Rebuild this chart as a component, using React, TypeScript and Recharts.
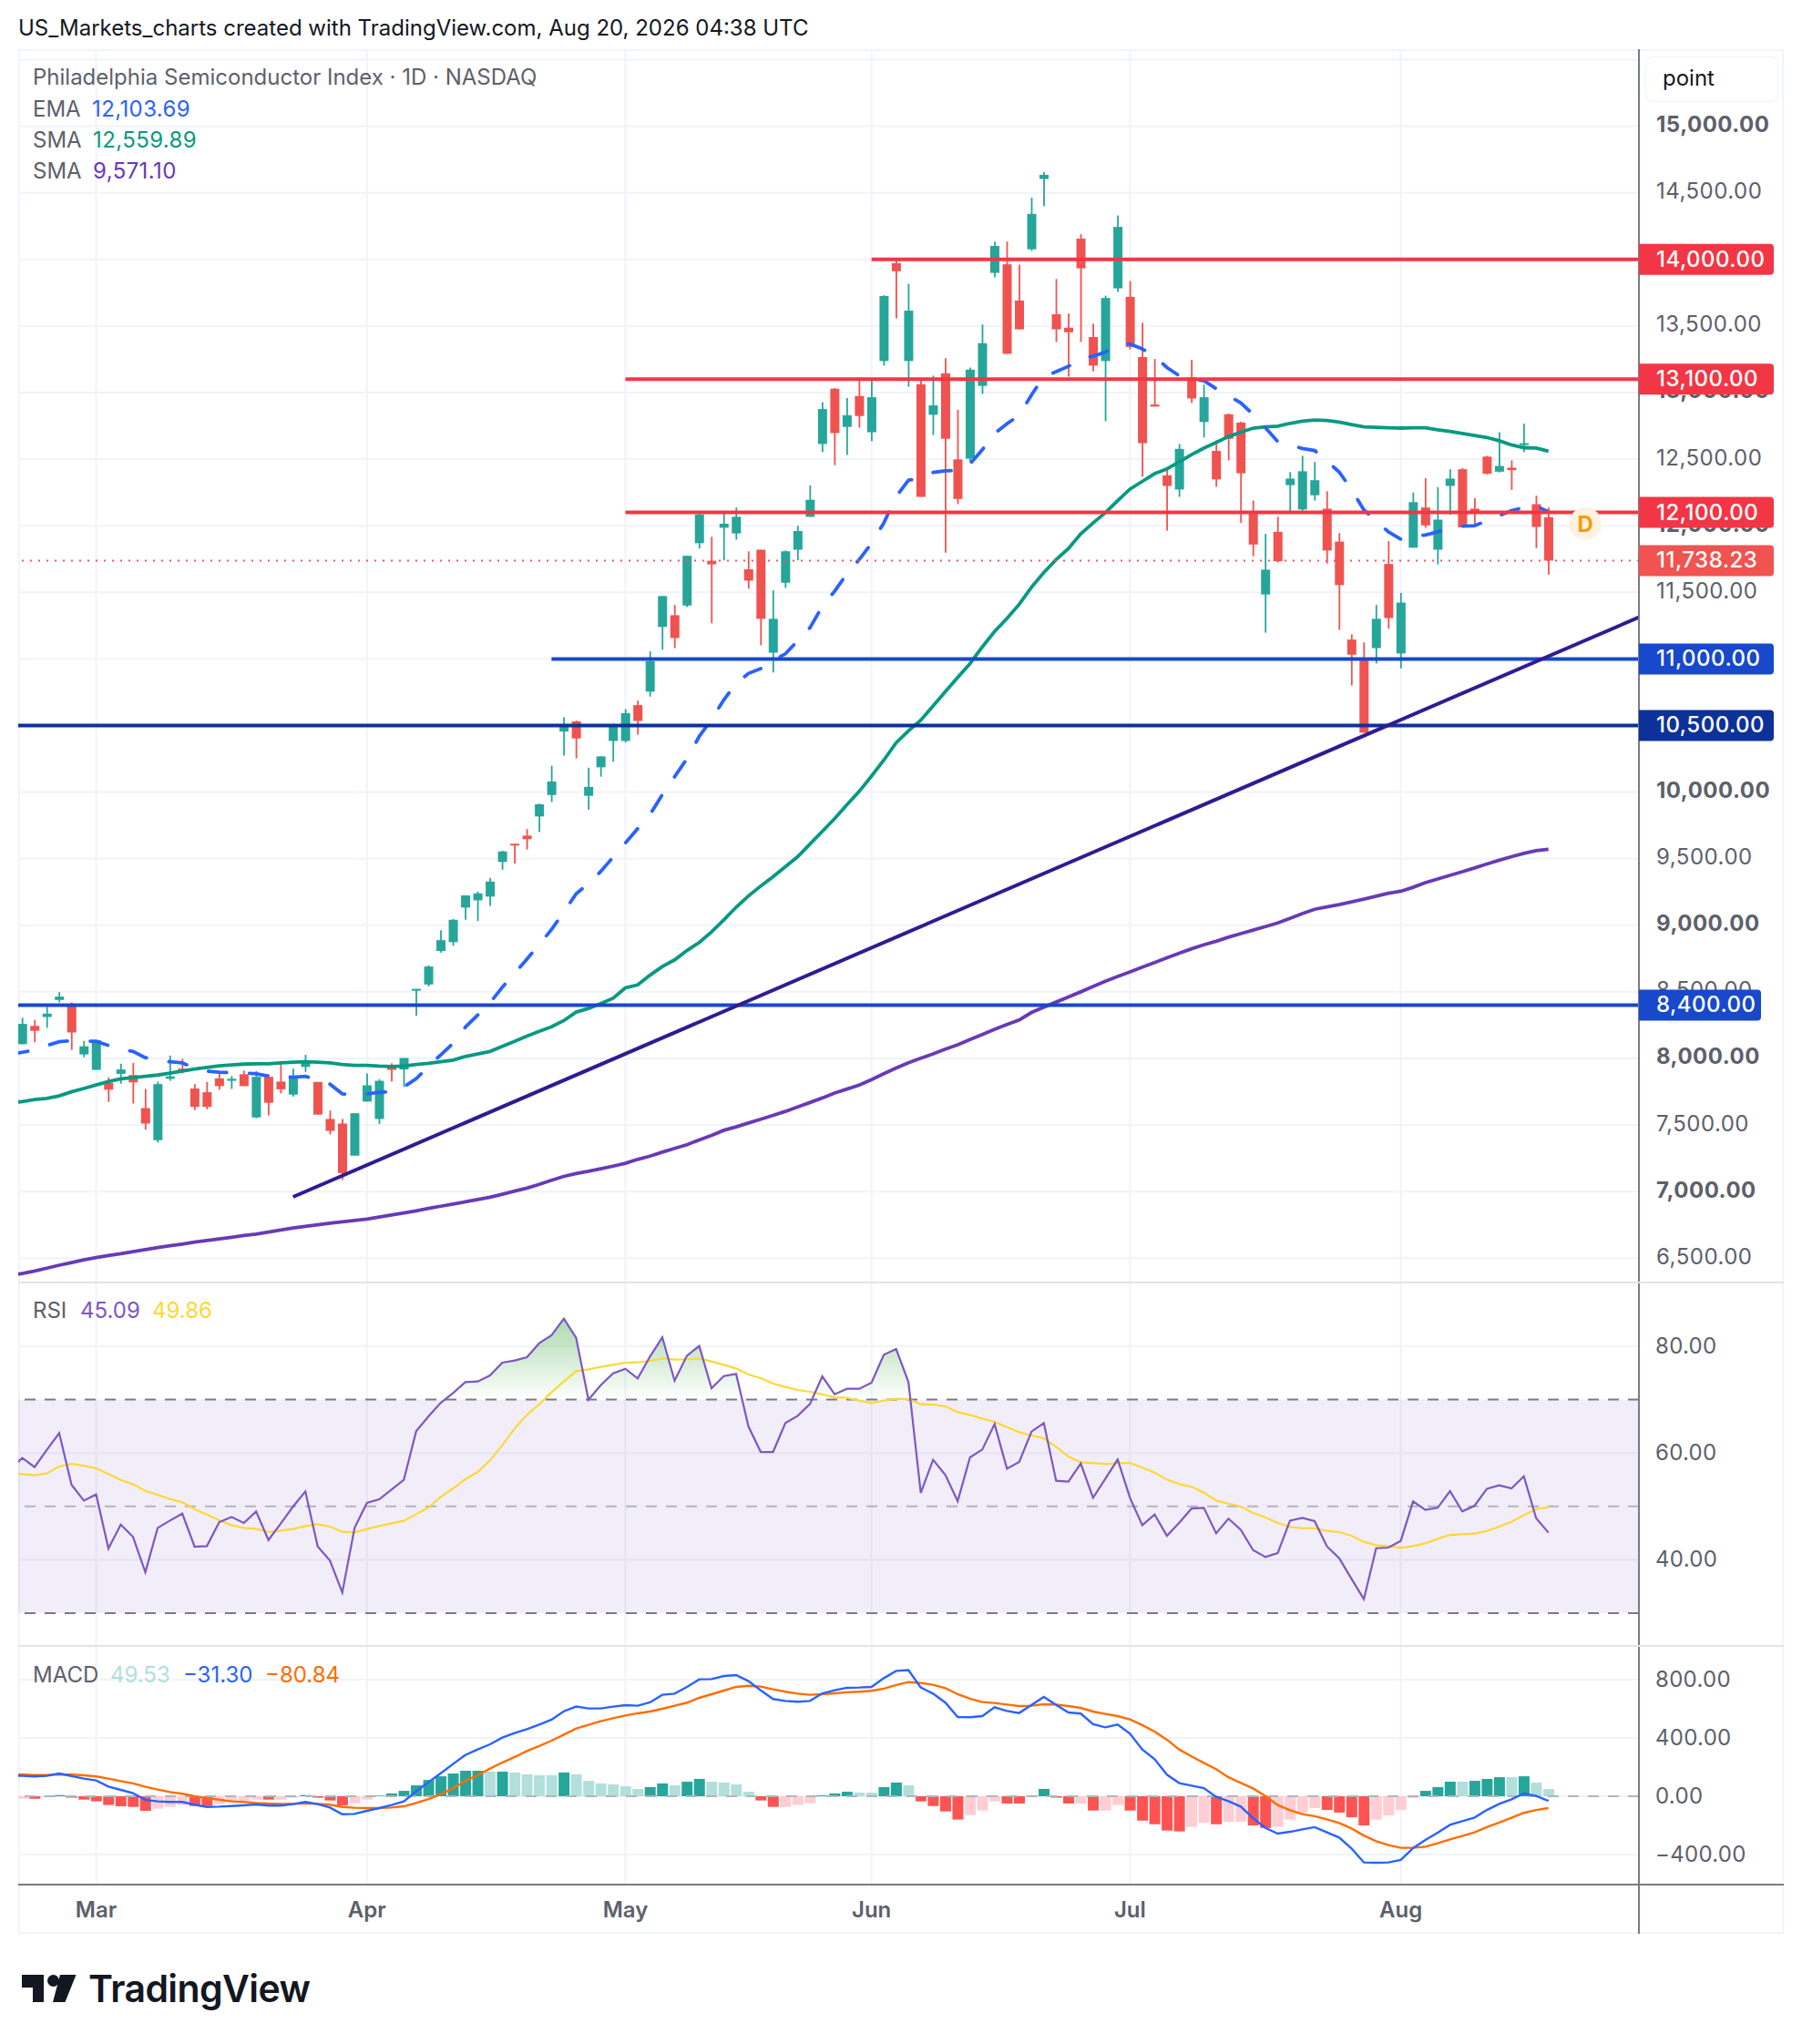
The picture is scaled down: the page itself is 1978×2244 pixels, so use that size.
import { ComposedChart, Bar, Line, Area, Cell, XAxis, YAxis, CartesianGrid, ReferenceLine, ReferenceArea, ReferenceDot } from "recharts";

const FONT = "Inter, 'Noto Sans', sans-serif";
const GREY = "#5D606B";
const GRID = "#F0F3FA";
const AXIS = "#787B86";

const monthTicks = [6, 28, 49, 69, 90, 112];
const monthLabels = ["Mar", "Apr", "May", "Jun", "Jul", "Aug"];

const opens = [8107,8244,8311,8439,8403,8030,7914,7816,7884,7875,7627,7386,7847,7923,7774,7746,7850,7832,7881,7557,7862,7826,7728,7936,7823,7545,7511,7270,7676,7545,7939,7917,8510,8555,8806,8873,9133,9187,9215,9475,9612,9673,9817,9978,10455,10531,9972,10186,10384,10384,10653,10754,11240,11328,11401,11869,11737,11985,11942,11673,11820,11047,11572,11820,12067,12614,13029,12742,12974,12702,13237,13972,13237,13062,12833,13145,12498,12504,13050,13899,13963,13691,14076,14604,13588,13487,14156,13417,13237,13783,13719,13267,12910,12379,12272,13114,12779,12562,12837,12775,12098,11484,11954,12305,12122,12229,12128,11881,11145,11008,11081,11713,11041,11835,12137,11820,12299,12424,12128,12519,12406,12436,12607,12162,12064];
const highs = [8305,8290,8387,8497,8421,8131,8137,7856,7960,7966,7771,7826,8021,7997,7807,7823,7899,7868,7908,7905,7881,7960,7923,8027,7823,7609,7545,7588,7887,7844,7963,8003,8522,8699,8962,9047,9224,9252,9355,9560,9612,9722,9914,10198,10562,10537,10183,10268,10513,10623,10687,11056,11472,11405,11774,12107,11917,12098,12137,11808,11820,11514,11814,12000,12302,12928,13035,12959,13114,13090,13731,13997,13817,13105,13127,13258,12870,13188,13511,14134,14134,13960,14464,14656,13853,13594,14189,13517,13728,14330,13838,13524,13252,12418,12614,13246,13059,12641,12843,12782,12189,11939,12067,12403,12525,12479,12259,11945,11185,11124,11405,11884,11496,12250,12357,12290,12424,12433,12208,12525,12702,12491,12766,12226,12137];
const lows = [8107,8122,8229,8421,8064,8009,7914,7673,7810,7661,7465,7368,7832,7887,7612,7618,7765,7771,7792,7551,7572,7737,7713,7899,7578,7429,7087,7270,7676,7508,7826,7786,8320,8540,8794,8846,9041,9032,9145,9417,9462,9569,9700,9926,10274,10253,9868,10116,10229,10372,10430,10717,11069,11081,11389,11829,11267,11740,11896,11527,11102,10898,11533,11740,12067,12553,12455,12531,12736,12635,13203,13557,13044,12217,12681,11798,12162,12479,12989,13866,13291,13475,14064,14400,13380,13120,13380,13160,12785,13756,13325,12369,12895,11963,12217,12922,12662,12293,12491,12021,11771,11197,11725,12088,12113,12189,11716,11218,10800,10446,10965,11227,10928,11835,11985,11710,12082,11988,12006,12385,12400,12269,12553,11832,11633];
const closes = [8259,8207,8336,8464,8195,8091,8137,7765,7917,7820,7511,7807,7865,7905,7636,7636,7792,7847,7792,7862,7667,7768,7868,7978,7578,7456,7139,7588,7798,7832,7914,8003,8522,8690,8888,9041,9224,9239,9328,9554,9603,9646,9908,10079,10507,10403,10039,10268,10507,10592,10534,10983,11472,11157,11774,12085,11710,12015,12067,11588,11301,11301,11808,11960,12195,12876,12696,12830,12824,12965,13725,13911,13615,12217,12904,12653,12201,13172,13371,14101,13291,13475,14342,14635,13475,13453,13933,13203,13710,14244,13343,12620,12895,12299,12577,12956,12965,12348,12653,12394,11859,11670,11734,12354,12409,12342,11814,11554,11032,10446,11301,11307,11423,12177,12003,12046,12354,11988,12098,12391,12449,12418,12620,11991,11738.23];

const ema = [8046,8064,8097,8125,8134,8131,8128,8097,8070,8052,8006,7984,7975,7966,7929,7905,7896,7893,7890,7884,7868,7862,7859,7865,7838,7807,7734,7725,7734,7746,7749,7786,7847,7939,8027,8113,8235,8326,8418,8534,8638,8745,8855,8968,9099,9236,9313,9404,9511,9618,9725,9830,9980,10115,10250,10418,10546,10693,10815,10891,10928,10989,11038,11136,11234,11395,11508,11640,11746,11868,12021,12220,12342,12357,12400,12412,12418,12464,12571,12693,12766,12830,12983,13120,13157,13197,13258,13273,13304,13365,13365,13328,13273,13188,13127,13099,13090,13029,12977,12922,12837,12736,12632,12607,12580,12565,12485,12403,12272,12119,12037,11954,11899,11924,11930,11954,11985,11997,12000,12037,12076,12113,12137,12149,12104];
const sma50 = [7676,7691,7700,7719,7749,7774,7801,7826,7847,7856,7865,7875,7890,7905,7920,7932,7944,7951,7957,7960,7960,7966,7972,7975,7972,7966,7954,7948,7948,7942,7939,7942,7954,7963,7975,7987,8015,8033,8052,8091,8128,8168,8204,8238,8284,8348,8375,8412,8452,8530,8552,8625,8690,8740,8810,8870,8950,9040,9135,9220,9295,9365,9440,9515,9610,9705,9800,9905,10005,10120,10240,10370,10460,10540,10647,10754,10861,10965,11090,11206,11304,11410,11539,11649,11746,11829,11939,12021,12098,12189,12275,12333,12391,12427,12479,12534,12583,12626,12669,12702,12733,12742,12748,12769,12785,12794,12791,12779,12760,12742,12739,12736,12733,12736,12736,12720,12708,12693,12678,12663,12638,12607,12586,12583,12560];
const sma200 = [6385,6403,6425,6447,6467,6487,6504,6519,6533,6549,6565,6580,6594,6606,6620,6632,6645,6657,6670,6681,6696,6712,6726,6738,6751,6763,6773,6783,6794,6808,6824,6839,6855,6873,6890,6907,6923,6941,6958,6980,7004,7026,7054,7085,7114,7135,7152,7172,7191,7212,7242,7266,7296,7324,7352,7388,7422,7460,7486,7515,7543,7572,7602,7636,7669,7703,7740,7770,7800,7841,7885,7928,7968,8001,8034,8070,8102,8141,8180,8218,8255,8288,8345,8385,8423,8462,8500,8540,8580,8615,8650,8685,8720,8755,8790,8823,8853,8880,8910,8937,8963,8990,9017,9052,9088,9120,9138,9155,9176,9196,9218,9240,9255,9285,9320,9347,9375,9402,9430,9460,9488,9515,9540,9560,9571];

const rsi = [59.07,57.36,60.6,63.73,54.06,51.1,52.24,42.1,46.6,44.28,37.68,45.98,47.35,48.66,42.46,42.57,47.06,48.03,46.89,49.06,43.7,46.8,49.97,52.81,42.5,39.84,33.87,45.98,50.65,51.33,53.15,54.97,64.07,66.86,69.42,71.24,73.29,73.4,74.54,76.93,77.33,77.95,80.57,82.05,85.18,81.59,69.99,72.72,74.94,75.79,73.97,78.07,81.7,73.57,78.24,80.06,72.15,74.43,74.82,64.98,60.2,60.2,65.61,66.97,69.19,74.37,71.01,72.04,72.04,73.17,78.41,79.49,73.29,52.53,58.73,55.88,50.99,59.18,60.66,65.44,57.07,58.33,64.02,65.61,54.8,54.63,58.04,51.61,55.2,58.78,51.61,46.5,48.49,44.5,46.95,49.6,49.74,44.96,47.7,45.64,41.83,40.52,41.26,47.35,47.86,47.23,42.51,40.3,36.43,32.62,42.17,42.29,43.54,50.93,49.34,49.74,52.87,49.06,50.14,53.32,53.95,53.38,55.65,47.8,45.09];
const rsiMa = [56.05,55.82,56.22,57.47,57.99,57.64,57.13,56.05,54.97,54.17,52.92,52.18,51.39,50.76,49.51,48.49,47.41,46.5,45.98,45.81,45.19,45.47,45.76,46.33,46.67,46.21,45.24,45.13,45.76,46.33,46.84,47.29,48.54,49.79,51.79,53.38,55.09,56.45,58.61,61.46,64.58,67.14,69.13,71.41,73.4,75.33,75.67,76.13,76.53,76.93,76.98,77.27,77.72,77.5,77.55,77.72,77.16,76.53,75.85,74.71,74.03,73,72.38,71.81,71.47,71.01,70.44,70.33,69.82,69.36,69.82,70.16,70.1,69.13,69.08,68.74,67.66,67.14,66.46,65.84,64.87,63.9,63.28,62.76,61.17,59.35,58.27,58.15,57.93,58.1,58.15,57.25,56.34,55.03,54.17,53.66,52.58,51.1,50.53,49.97,48.77,47.97,46.89,46.15,45.92,45.92,45.41,45.19,44.5,43.37,42.74,42.57,42.23,42.57,43.08,43.93,44.67,44.79,44.9,45.41,46.21,47.12,48.37,49.51,49.86];

const macd = [140,136,140,156,138,121,109,67,44,21,-25,-35,-39,-39,-58,-73,-71,-67,-62,-56,-64,-64,-54,-39,-54,-77,-123,-121,-100,-81,-60,-35,33,96,158,221,283,321,356,402,433,460,492,525,583,615,602,602,615,625,621,644,696,704,750,802,804,825,831,790,727,667,654,648,654,706,727,744,746,750,810,860,865,746,704,642,544,542,550,610,585,571,627,681,627,575,567,494,473,492,429,321,254,148,90,73,56,-4,-33,-71,-150,-217,-256,-244,-227,-212,-248,-283,-358,-454,-456,-454,-437,-356,-300,-250,-196,-171,-146,-94,-52,-21,19,2,-31.3];
const signal = [148,146,146,150,148,144,136,121,104,88,65,46,29,17,0,-12,-23,-35,-39,-46,-50,-52,-52,-48,-52,-58,-73,-79,-81,-81,-77,-69,-46,-19,13,54,106,144,190,231,269,310,344,381,423,465,490,515,535,554,569,581,600,621,642,675,700,725,750,758,752,733,717,704,696,700,706,713,717,723,738,763,783,777,765,742,700,669,646,640,629,619,621,631,629,619,606,581,565,550,527,488,444,388,321,273,229,186,130,92,54,2,-60,-96,-123,-137,-158,-183,-221,-269,-308,-335,-354,-354,-346,-323,-296,-273,-248,-212,-181,-148,-114,-94,-80.84];
const hist = [-17,-17,-8,8,-10,-23,-35,-60,-69,-73,-100,-85,-73,-60,-67,-67,-54,-40,-31,-23,-23,-23,-10,8,-10,-29,-62,-48,-23,4,19,37,75,112,137,156,175,175,169,169,163,150,144,144,163,150,106,88,81,69,50,63,88,75,100,119,100,94,81,31,-29,-73,-73,-60,-48,6,19,31,25,25,63,94,75,-35,-67,-104,-160,-129,-98,-35,-50,-50,6,50,-10,-50,-50,-98,-98,-60,-98,-167,-192,-235,-241,-210,-181,-192,-175,-175,-200,-218,-210,-160,-112,-81,-94,-112,-144,-200,-160,-131,-94,-12,37,63,100,100,106,119,131,131,137,94,49.53];
// 1 = saturated bar, 0 = pale bar
const histStrong = [0,1,0,1,1,1,1,1,1,1,1,0,0,0,1,1,0,0,0,0,1,0,0,1,1,1,1,0,0,1,1,1,1,1,1,1,1,1,0,1,0,0,0,0,1,0,0,0,0,0,0,1,1,0,1,1,0,0,0,0,1,1,0,0,0,1,1,1,0,0,1,1,0,1,1,1,1,0,0,0,1,1,1,1,1,1,0,1,0,0,1,1,1,1,1,0,0,1,0,0,1,1,0,0,0,0,1,1,1,1,0,0,0,0,1,1,1,0,1,1,1,0,1,0,0];

// one session before the first visible candle, so the lines reach the left edge
const leadPrices = { i: -1, ema: 8030, sma50: 7668, sma200: 6372 };
const leadRsi = { i: -1, rsi: 57, ma: 56.2 };
const leadMacd = { i: -1, macd: 141, signal: 149 };

const candles = [leadPrices, ...opens.map((o, i) => ({ i, o, c: closes[i], range: [lows[i], highs[i]], ema: ema[i], sma50: sma50[i], sma200: sma200[i] }))];
const rsiRows = [leadRsi, ...rsi.map((v, i) => ({ i, rsi: v, ma: rsiMa[i] }))];
const macdRows = [leadMacd, ...macd.map((v, i) => ({ i, macd: v, signal: signal[i], hist: hist[i], strong: histStrong[i] }))];

const priceTicks = [15000, 14500, 13500, 13000, 12500, 12000, 11500, 10000, 9500, 9000, 8500, 8000, 7500, 7000, 6500];
const priceGrid = [15500, 15000, 14500, 14000, 13500, 13000, 12500, 12000, 11500, 11000, 10500, 10000, 9500, 9000, 8500, 8000, 7500, 7000, 6500];
const boldTicks = [15000, 13000, 12000, 10000, 9000, 8000, 7000];
const tagValues = [14000, 13100, 12100, 11000, 10500, 8400, 11738.23];
const tagColors = ["#F23645", "#F23645", "#F23645", "#1848CC", "#0C3299", "#1848CC", "#F05350"];

const X_RIGHT = 131.35;
const X_DOMAIN = [-0.33, X_RIGHT];
const fmt = (v: number) => (v < 0 ? "\u2212" : "") + Math.abs(v).toLocaleString("en-US", { minimumFractionDigits: 2, maximumFractionDigits: 2 });

function Candle(props: any) {
  const { x, y, width, height, payload } = props;
  if (!payload.range) return null;
  const [low, high] = payload.range;
  const k = height / (high - low);
  const up = payload.c >= payload.o;
  const color = up ? "#26A69A" : "#EF5350";
  const top = y + (high - Math.max(payload.o, payload.c)) * k;
  const bottom = y + (high - Math.min(payload.o, payload.c)) * k;
  return (
    <g>
      <rect x={x + width / 2 - 0.9} y={y} width={1.8} height={height} fill={color} />
      <rect x={x} y={top} width={width} height={Math.max(bottom - top, 2)} fill={color} />
    </g>
  );
}

function PriceTick(props: any) {
  const { x, y, payload } = props;
  const v = payload.value;
  const tag = tagValues.indexOf(v);
  if (tag >= 0) {
    const w = v < 10000 ? 134 : 148;
    const left = x - 19;
    return (
      <g>
        <path d={`M${left} ${y - 17}h${w - 4}q4 0 4 4v26q0 4 -4 4h${4 - w}z`} fill={tagColors[tag]} />
        <text x={x} y={y + 8} fontSize={24} fontWeight={500} letterSpacing={0.5} fill="#fff" fontFamily={FONT}>{fmt(v)}</text>
      </g>
    );
  }
  return (
    <text x={x} y={y + 6.5} fontSize={24} fontWeight={boldTicks.includes(v) ? 700 : 400} letterSpacing={0.5} fill={GREY} fontFamily={FONT}>{fmt(v)}</text>
  );
}

function PlainTick(props: any) {
  const { x, y, payload } = props;
  return <text x={x} y={y + 8} fontSize={24} letterSpacing={0.3} fill={GREY} fontFamily={FONT}>{fmt(payload.value)}</text>;
}

function MonthTick(props: any) {
  const { x, y, payload } = props;
  return <text x={x} y={y} textAnchor="middle" fontSize={24} fontWeight={600} fill={GREY} fontFamily={FONT}>{monthLabels[monthTicks.indexOf(payload.value)]}</text>;
}

const abs = (left: number, top: number, extra: object = {}) => ({ position: "absolute" as const, left, top, whiteSpace: "nowrap" as const, fontFamily: FONT, fontSize: 24, lineHeight: "30px", color: GREY, ...extra });

export default function App() {
  return (
    <div style={{ position: "absolute", left: 0, top: 0, width: 1978, height: 2244, background: "#fff", overflow: "hidden" }}>
      <div style={abs(20, 16, { color: "#131722" })}>US_Markets_charts created with TradingView.com, Aug 20, 2026 04:38 UTC</div>
      <div style={{ position: "absolute", left: 20, top: 54, width: 1938, height: 2069, border: `2px solid ${GRID}`, boxSizing: "border-box" }} />

      <div style={{ position: "absolute", left: 20, top: 54 }}>
        <ComposedChart width={1938} height={1353} data={candles} margin={{ top: 0, right: 0, bottom: 0, left: 0 }}>
          <CartesianGrid stroke={GRID} strokeWidth={2} horizontalValues={priceGrid} />
          <XAxis type="number" dataKey="i" domain={X_DOMAIN} allowDataOverflow ticks={monthTicks} hide />
          <YAxis orientation="right" width={159} domain={[6324, 15578.6]} allowDataOverflow interval={0} ticks={[...priceTicks, ...tagValues]} tick={PriceTick} tickLine={false} tickSize={0} tickMargin={19} axisLine={{ stroke: AXIS, strokeWidth: 2 }} />
          <Line dataKey="sma200" stroke="#673AB7" strokeWidth={3.8} dot={false} isAnimationActive={false} />
          <Line dataKey="sma50" stroke="#089981" strokeWidth={3.8} dot={false} isAnimationActive={false} />
          <Line dataKey="ema" stroke="#2962FF" strokeWidth={3.8} strokeDasharray="20 25" strokeLinecap="round" dot={false} isAnimationActive={false} />
          <Bar dataKey="range" barSize={10} shape={Candle} isAnimationActive={false} />
          <ReferenceLine y={11738.23} stroke="#F7525F" strokeWidth={2} strokeDasharray="2 7" />
          <ReferenceLine segment={[{ x: 69, y: 14000 }, { x: X_RIGHT, y: 14000 }]} stroke="#F23645" strokeWidth={4} />
          <ReferenceLine segment={[{ x: 49, y: 13100 }, { x: X_RIGHT, y: 13100 }]} stroke="#F23645" strokeWidth={4} />
          <ReferenceLine segment={[{ x: 49, y: 12100 }, { x: X_RIGHT, y: 12100 }]} stroke="#F23645" strokeWidth={4} />
          <ReferenceLine segment={[{ x: 43, y: 11000 }, { x: X_RIGHT, y: 11000 }]} stroke="#1848CC" strokeWidth={4} />
          <ReferenceLine y={10500} stroke="#0C3299" strokeWidth={4} />
          <ReferenceLine y={8400} stroke="#1848CC" strokeWidth={4} />
          <ReferenceLine segment={[{ x: 22, y: 6960 }, { x: X_RIGHT, y: 11313 }]} stroke="#311B92" strokeWidth={4} />
          <ReferenceDot x={127} y={12015} r={18} fill="#FFF3E0" stroke="none" label={{ value: "D", fill: "#FF9800", fontSize: 24, fontWeight: 700, fontFamily: FONT }} />
        </ComposedChart>
      </div>

      <div style={{ position: "absolute", left: 20, top: 1407 }}>
        <ComposedChart width={1938} height={400} data={rsiRows} margin={{ top: 0, right: 0, bottom: 0, left: 0 }}>
          <defs>
            <linearGradient id="rsiFill" gradientUnits="userSpaceOnUse" x1="0" y1="50" x2="0" y2="130">
              <stop offset="0%" stopColor="#4CAF50" stopOpacity={0.42} />
              <stop offset="100%" stopColor="#4CAF50" stopOpacity={0} />
            </linearGradient>
          </defs>
          <CartesianGrid stroke={GRID} strokeWidth={2} horizontalValues={[80, 60, 40]} />
          <XAxis type="number" dataKey="i" domain={X_DOMAIN} allowDataOverflow ticks={monthTicks} hide />
          <YAxis orientation="right" width={159} domain={[23.86, 92.12]} allowDataOverflow interval={0} ticks={[80, 60, 40]} tick={PlainTick} tickLine={false} tickSize={0} tickMargin={18} axisLine={{ stroke: AXIS, strokeWidth: 2 }} />
          <ReferenceArea y1={30} y2={70} fill="#7E57C2" fillOpacity={0.1} stroke="none" />
          <ReferenceLine y={70} stroke={AXIS} strokeWidth={2} strokeDasharray="12 10" />
          <ReferenceLine y={50} stroke="#B2B5BE" strokeWidth={2} strokeDasharray="12 10" />
          <ReferenceLine y={30} stroke={AXIS} strokeWidth={2} strokeDasharray="12 10" />
          <Area dataKey="rsi" baseValue={70} stroke="none" fill="url(#rsiFill)" fillOpacity={1} dot={false} activeDot={false} isAnimationActive={false} />
          <Line dataKey="ma" stroke="#FDD835" strokeWidth={2.2} dot={false} isAnimationActive={false} />
          <Line dataKey="rsi" stroke="#7E57C2" strokeWidth={2.2} dot={false} isAnimationActive={false} />
        </ComposedChart>
      </div>

      <div style={{ position: "absolute", left: 20, top: 1807 }}>
        <ComposedChart width={1938} height={316} data={macdRows} margin={{ top: 0, right: 0, bottom: 0, left: 0 }}>
          <CartesianGrid stroke={GRID} strokeWidth={2} horizontalValues={[800, 400, 0, -400]} />
          <XAxis type="number" dataKey="i" domain={X_DOMAIN} allowDataOverflow ticks={monthTicks} height={54} tick={MonthTick} tickLine={false} tickSize={0} tickMargin={36} interval={0} axisLine={{ stroke: AXIS, strokeWidth: 2 }} />
          <YAxis orientation="right" width={159} domain={[-606, 1031]} allowDataOverflow interval={0} ticks={[800, 400, 0, -400]} tick={PlainTick} tickLine={false} tickSize={0} tickMargin={18} axisLine={{ stroke: AXIS, strokeWidth: 2 }} />
          <ReferenceLine y={0} stroke="#B2B5BE" strokeWidth={2} strokeDasharray="12 10" />
          <Bar dataKey="hist" barSize={12} isAnimationActive={false}>
            {macdRows.map((r: any) => (
              <Cell key={r.i} fill={r.hist >= 0 ? (r.strong ? "#26A69A" : "#B2DFDB") : r.strong ? "#FF5252" : "#FFCDD2"} />
            ))}
          </Bar>
          <Line dataKey="signal" stroke="#FF6D00" strokeWidth={2.4} dot={false} isAnimationActive={false} />
          <Line dataKey="macd" stroke="#2962FF" strokeWidth={2.4} dot={false} isAnimationActive={false} />
        </ComposedChart>
      </div>

      <div style={{ position: "absolute", left: 20, top: 1407, width: 1938, height: 2, background: "#E0E3EB" }} />
      <div style={{ position: "absolute", left: 20, top: 1806, width: 1938, height: 2, background: "#E0E3EB" }} />
      <div style={{ position: "absolute", left: 20, top: 2068, width: 1938, height: 2, background: AXIS }} />
      <div style={{ position: "absolute", left: 1798, top: 2068, width: 2, height: 55, background: AXIS }} />

      <div style={abs(36, 70)}>Philadelphia Semiconductor Index · 1D · NASDAQ</div>
      <div style={abs(36, 105)}>EMA</div>
      <div style={abs(101, 105, { color: "#2962FF", letterSpacing: 0.4 })}>12,103.69</div>
      <div style={abs(36, 139)}>SMA</div>
      <div style={abs(102, 139, { color: "#089981", letterSpacing: 0.4 })}>12,559.89</div>
      <div style={abs(36, 173)}>SMA</div>
      <div style={abs(102, 173, { color: "#673AB7", letterSpacing: 0.4 })}>9,571.10</div>

      <div style={abs(36, 1424)}>RSI</div>
      <div style={abs(88, 1424, { color: "#7E57C2" })}>45.09</div>
      <div style={abs(167, 1424, { color: "#FDD835" })}>49.86</div>

      <div style={abs(36, 1824)}>MACD</div>
      <div style={abs(121, 1824, { color: "#B2DFDB" })}>49.53</div>
      <div style={abs(201, 1824, { color: "#2962FF" })}>−31.30</div>
      <div style={abs(291, 1824, { color: "#FF6D00" })}>−80.84</div>

      <div style={{ position: "absolute", left: 1806, top: 62, width: 146, height: 50, background: "#fff", border: `1px solid ${GRID}`, borderRadius: 8, boxSizing: "border-box" }} />
      <div style={abs(1825, 71, { color: "#131722" })}>point</div>

      <svg style={{ position: "absolute", left: 24, top: 2168 }} width={60} height={30} viewBox="0 0 60 30">
        <path d="M0 0H24V30H12V14H0Z" fill="#131722" />
        <circle cx={34.5} cy={6.5} r={6.5} fill="#131722" />
        <path d="M42 0H59.5L47.5 30H34Z" fill="#131722" />
      </svg>
      <div style={abs(97, 2158, { color: "#131722", fontSize: 41, lineHeight: "50px", fontWeight: 600, letterSpacing: -0.6 })}>TradingView</div>
    </div>
  );
}
